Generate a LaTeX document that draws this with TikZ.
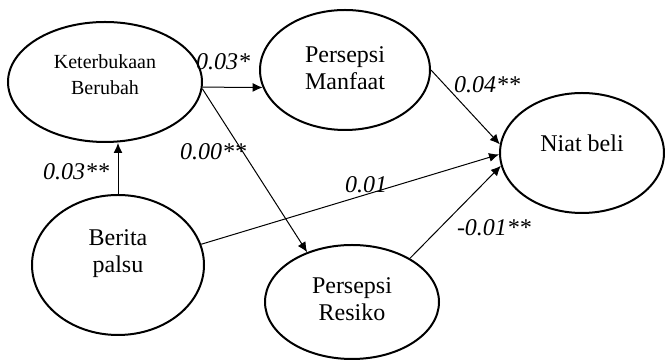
\documentclass[tikz,border=0pt]{standalone}
\usepackage{fontspec}
\setmainfont{Liberation Serif}
\usetikzlibrary{arrows.meta,shapes.geometric}

\begin{document}
\begin{tikzpicture}[x=0.5pt, y=-0.5pt,
    var/.style={draw, ellipse, line width=1pt, inner sep=0pt},
    txt/.style={align=center, font=\fontsize{12}{13.5}\selectfont},
    coef/.style={font=\fontsize{12}{14}\selectfont\itshape, inner sep=0pt},
    effect/.style={-{Latex[length=5pt,width=4.5pt]}, line width=0.5pt}]

        \useasboundingbox (0,0) rectangle (665,362);

        % Latent variables
        \node[var, minimum width=97pt, minimum height=60pt] (K) at (105,82) {};
        \node[var, minimum width=85pt, minimum height=60pt] (M) at (345,70) {};
        \node[var, minimum width=82pt, minimum height=60pt] (N) at (582,153) {};
        \node[var, minimum width=86pt, minimum height=70pt] (B) at (118,265) {};
        \node[var, minimum width=87pt, minimum height=57pt] (R) at (352,302) {};

        % Variable names
        \node[txt, font=\fontsize{10}{13}\selectfont] (Kt) at (105,75) {Keterbukaan\\Berubah};
        \node[txt] (Mt) at (345,68) {Persepsi\\Manfaat};
        \node[txt] (Nt) at (582,143) {Niat beli};
        \node[txt] (Bt) at (118,254) {Berita\\palsu};
        \node[txt] (Rt) at (352,299) {Persepsi\\Resiko};

        % Paths
        \draw[effect] (K.-3) -- (M.192);
        \draw[effect] (K.-4) -- (R.132);
        \draw[effect] (M.east) -- (N.174);
        \draw[effect] (B.14) -- (N.181);
        \draw[effect] (R.37) -- (N.189);
        \draw[effect] (B.north) -- (B.north |- K.south);

        % Coefficients
        \node[coef] (c1) at (223,62) {0.03*};
        \node[coef] (c2) at (213,152) {0.00**};
        \node[coef] (c3) at (487,85) {0.04**};
        \node[coef] (c4) at (366,185) {0.01};
        \node[coef] (c5) at (494,228) {-0.01**};
        \node[coef] (c6) at (76,172) {0.03**};

    \end{tikzpicture}
\end{document}
